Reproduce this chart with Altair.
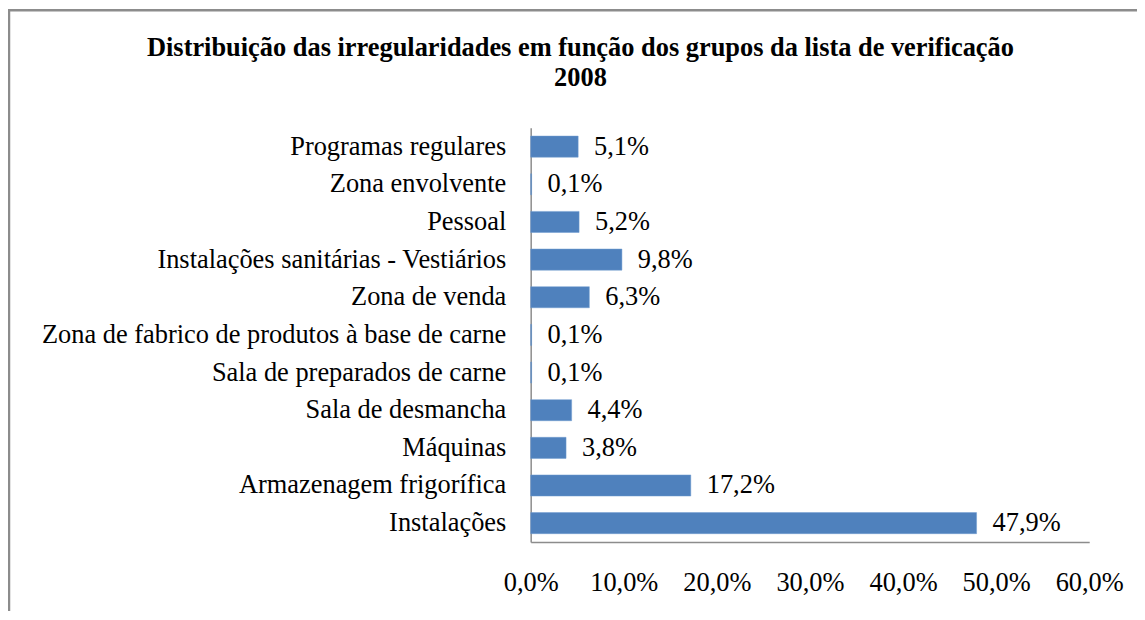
import altair as alt
import pandas as pd

categories = [
    "Programas regulares",
    "Zona envolvente",
    "Pessoal",
    "Instalações sanitárias - Vestiários",
    "Zona de venda",
    "Zona de fabrico de produtos à base de carne",
    "Sala de preparados de carne",
    "Sala de desmancha",
    "Máquinas",
    "Armazenagem frigorífica",
    "Instalações",
]
values = [5.1, 0.1, 5.2, 9.8, 6.3, 0.1, 0.1, 4.4, 3.8, 17.2, 47.9]
labels = ["5,1%", "0,1%", "5,2%", "9,8%", "6,3%", "0,1%", "0,1%", "4,4%", "3,8%", "17,2%", "47,9%"]
tick_values = [0, 10, 20, 30, 40, 50, 60]
title_lines = ["Distribuição das irregularidades em função dos grupos da lista de verificação", "2008"]

df = pd.DataFrame({"cat": categories, "val": values, "lab": labels})

FONT = "Times New Roman, Liberation Serif, serif"
FS = 26.5
W, H = 561, 416
PAD_LEFT = 525

y_enc = alt.Y("cat:N", sort=categories, title=None,
              scale=alt.Scale(paddingInner=0.44, paddingOuter=0.22),
              axis=alt.Axis(labelFont=FONT, labelFontSize=FS, labelColor="#000000",
                            labelPadding=25, ticks=False, domainColor="#8c8c8c",
                            domainWidth=1.5, labelLimit=600))
x_enc = alt.X("val:Q", title=None,
              scale=alt.Scale(domain=[0, 60], nice=False),
              axis=alt.Axis(values=tick_values,
                            labelExpr="replace(format(datum.value, '.1f'), '.', ',') + '%'",
                            labelFont=FONT, labelFontSize=FS, labelColor="#000000",
                            labelPadding=28, ticks=False, grid=False,
                            labelFlush=False, labelOverlap=False,
                            domainColor="#8c8c8c", domainWidth=1.5))

bars = alt.Chart(df).mark_bar(color="#4f81bd", stroke="#6f9bd1", strokeWidth=0.5).encode(x=x_enc, y=y_enc)
text = alt.Chart(df).mark_text(align="left", baseline="middle", dx=16, font=FONT,
                               fontSize=FS, color="#000000").encode(
    x="val:Q", y=alt.Y("cat:N", sort=categories), text="lab:N")

frame = alt.Chart(pd.DataFrame({"f": [0]})).mark_rect(
    fill=None, stroke="#8c8c8c", strokeWidth=2.5, clip=False).encode(
    x=alt.value(-PAD_LEFT + 1), x2=alt.value(800), y=alt.value(-118), y2=alt.value(700))

title = alt.Chart(pd.DataFrame({"f": [0]})).mark_text(
    font=FONT, fontSize=26.5, fontWeight="bold", color="#000000",
    align="center", baseline="middle", lineHeight=30).encode(
    x=alt.value(50), y=alt.value(-80), text=alt.value(title_lines))

chart = alt.layer(frame, title, bars, text).properties(
    width=W, height=H,
    autosize=alt.AutoSizeParams(type="none"),
    padding={"left": PAD_LEFT, "top": 119, "right": 48, "bottom": 68},
).configure(background="#ffffff").configure_view(stroke=None)

chart.save("out.html", embed_options={"renderer": "svg", "actions": False})
